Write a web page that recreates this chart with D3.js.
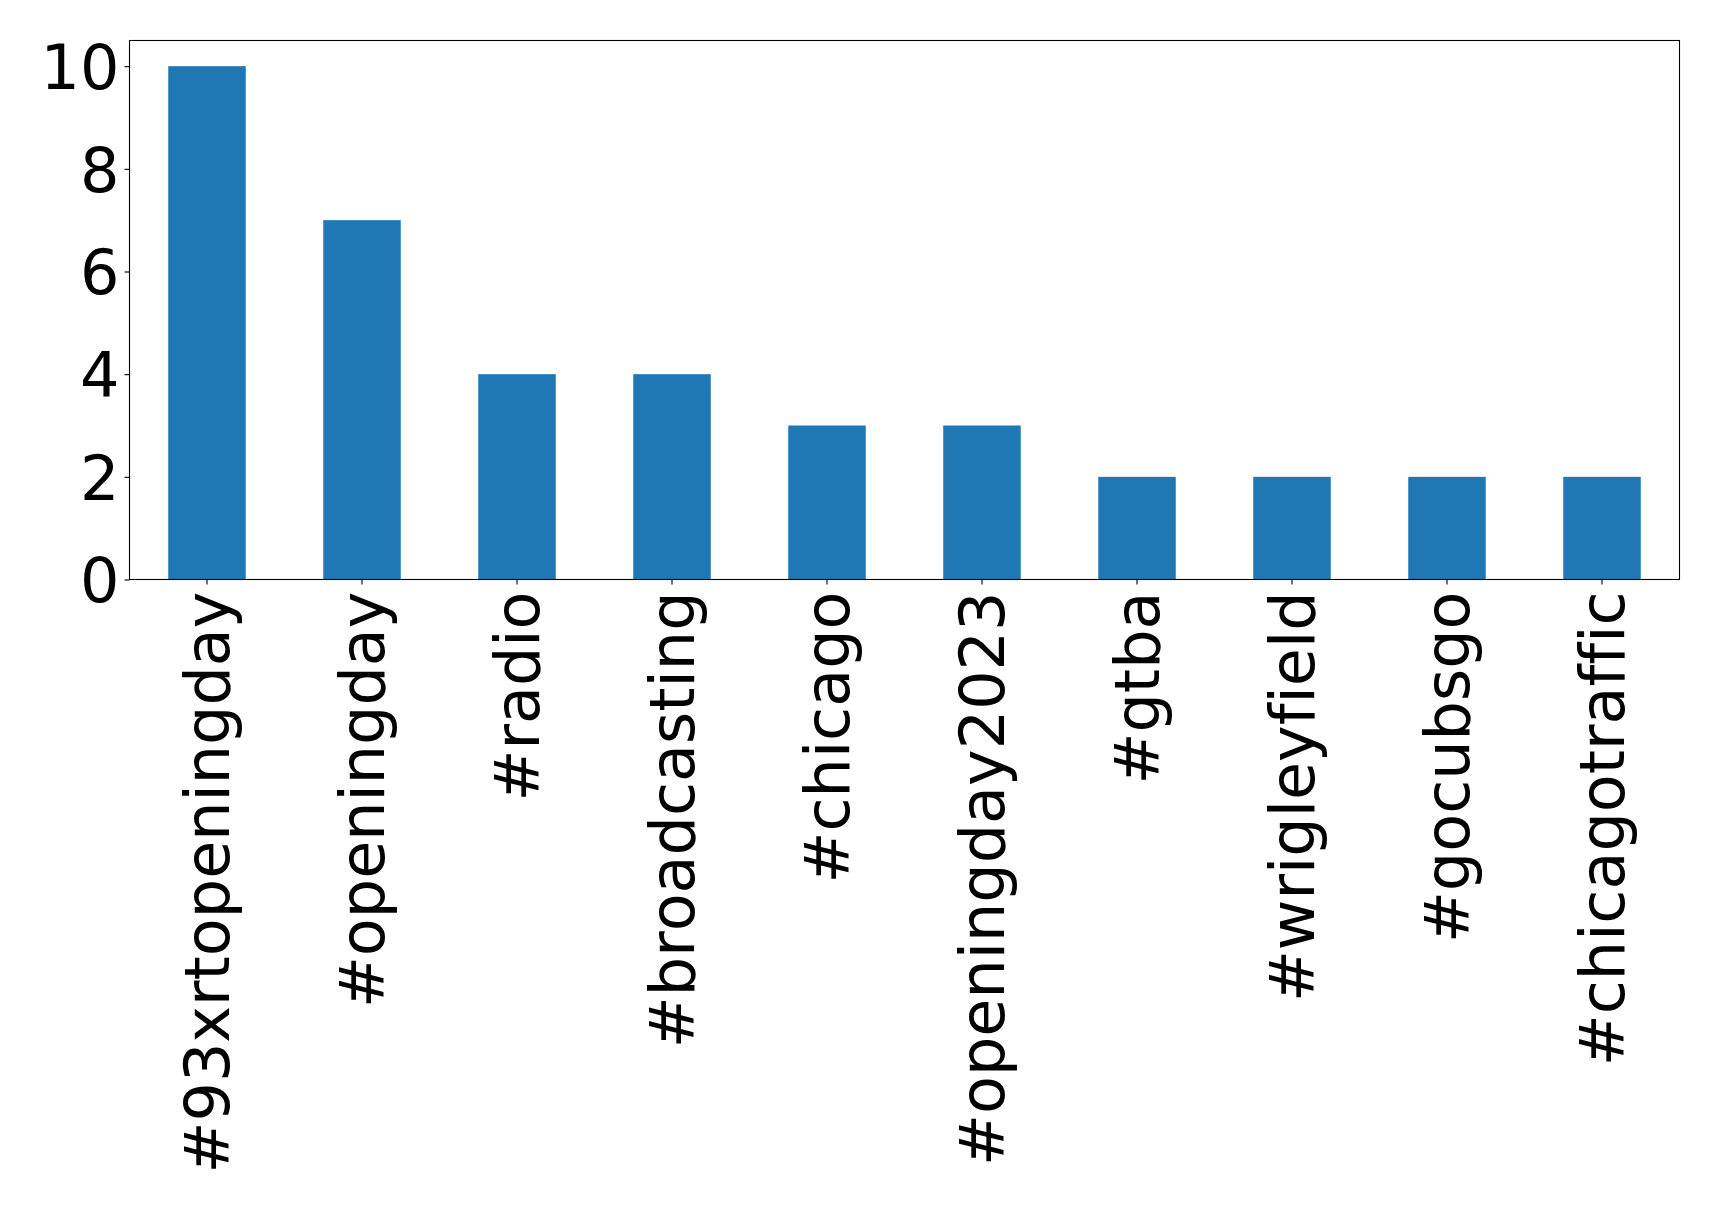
<!DOCTYPE html>
<html>
<head>
<meta charset="utf-8">
<script src="https://cdn.jsdelivr.net/npm/d3@7"></script>
<style>
  html, body { margin: 0; padding: 0; background: #fff; }
  svg { display: block; }
  text { font-family: "DejaVu Sans", sans-serif; fill: #000; font-variant-ligatures: none; font-kerning: none; }
</style>
</head>
<body>
<script>
const categories = ["#93xrtopeningday", "#openingday", "#radio", "#broadcasting", "#chicago",
  "#openingday2023", "#gtba", "#wrigleyfield", "#gocubsgo", "#chicagotraffic"];
const counts = [10, 7, 4, 4, 3, 3, 2, 2, 2, 2];
const yTicks = [0, 2, 4, 6, 8, 10];

const W = 1719, H = 1215;
const mLeft = 129.5, mRight = 1679.5, mTop = 40.5, mBottom = 579.5;
const fontSize = 62;

const svg = d3.select("body").append("svg").attr("width", W).attr("height", H);

const x = d3.scaleBand().domain(categories).range([mLeft, mRight]).paddingInner(0.5).paddingOuter(0.25);
const y = d3.scaleLinear().domain([0, 10.5]).range([mBottom, mTop]);

svg.append("g").selectAll("rect").data(counts).join("rect")
  .attr("x", (d, i) => x(categories[i]))
  .attr("y", d => y(d))
  .attr("width", x.bandwidth())
  .attr("height", d => y(0) - y(d))
  .attr("fill", "#1f77b4");

// frame
svg.append("rect").attr("x", mLeft).attr("y", mTop).attr("width", mRight - mLeft).attr("height", mBottom - mTop)
  .attr("fill", "none").attr("stroke", "#000").attr("stroke-width", 1.1);

// y axis
const yAxis = d3.axisLeft(y).tickValues(yTicks).tickSize(5).tickPadding(5).tickFormat(d3.format("d"));
const gy = svg.append("g").attr("transform", `translate(${mLeft},0)`).call(yAxis);
gy.select(".domain").remove();
gy.selectAll(".tick line").attr("stroke", "#000").attr("stroke-width", 1.1);
gy.selectAll(".tick text").attr("font-size", fontSize).attr("font-family", "DejaVu Sans").attr("dy", "0.36em").attr("fill", "#000");

// x axis
const xAxis = d3.axisBottom(x).tickSize(5).tickPadding(5);
const gx = svg.append("g").attr("transform", `translate(0,${mBottom})`).call(xAxis);
gx.select(".domain").remove();
gx.selectAll(".tick line").attr("stroke", "#000").attr("stroke-width", 1.1);
gx.selectAll(".tick text")
  .attr("font-size", fontSize).attr("font-family", "DejaVu Sans").attr("fill", "#000")
  .attr("text-anchor", "end")
  .attr("x", 0).attr("y", 0)
  .attr("dy", "0.35em")
  .attr("transform", "translate(0,12) rotate(-90)");
</script>
</body>
</html>
